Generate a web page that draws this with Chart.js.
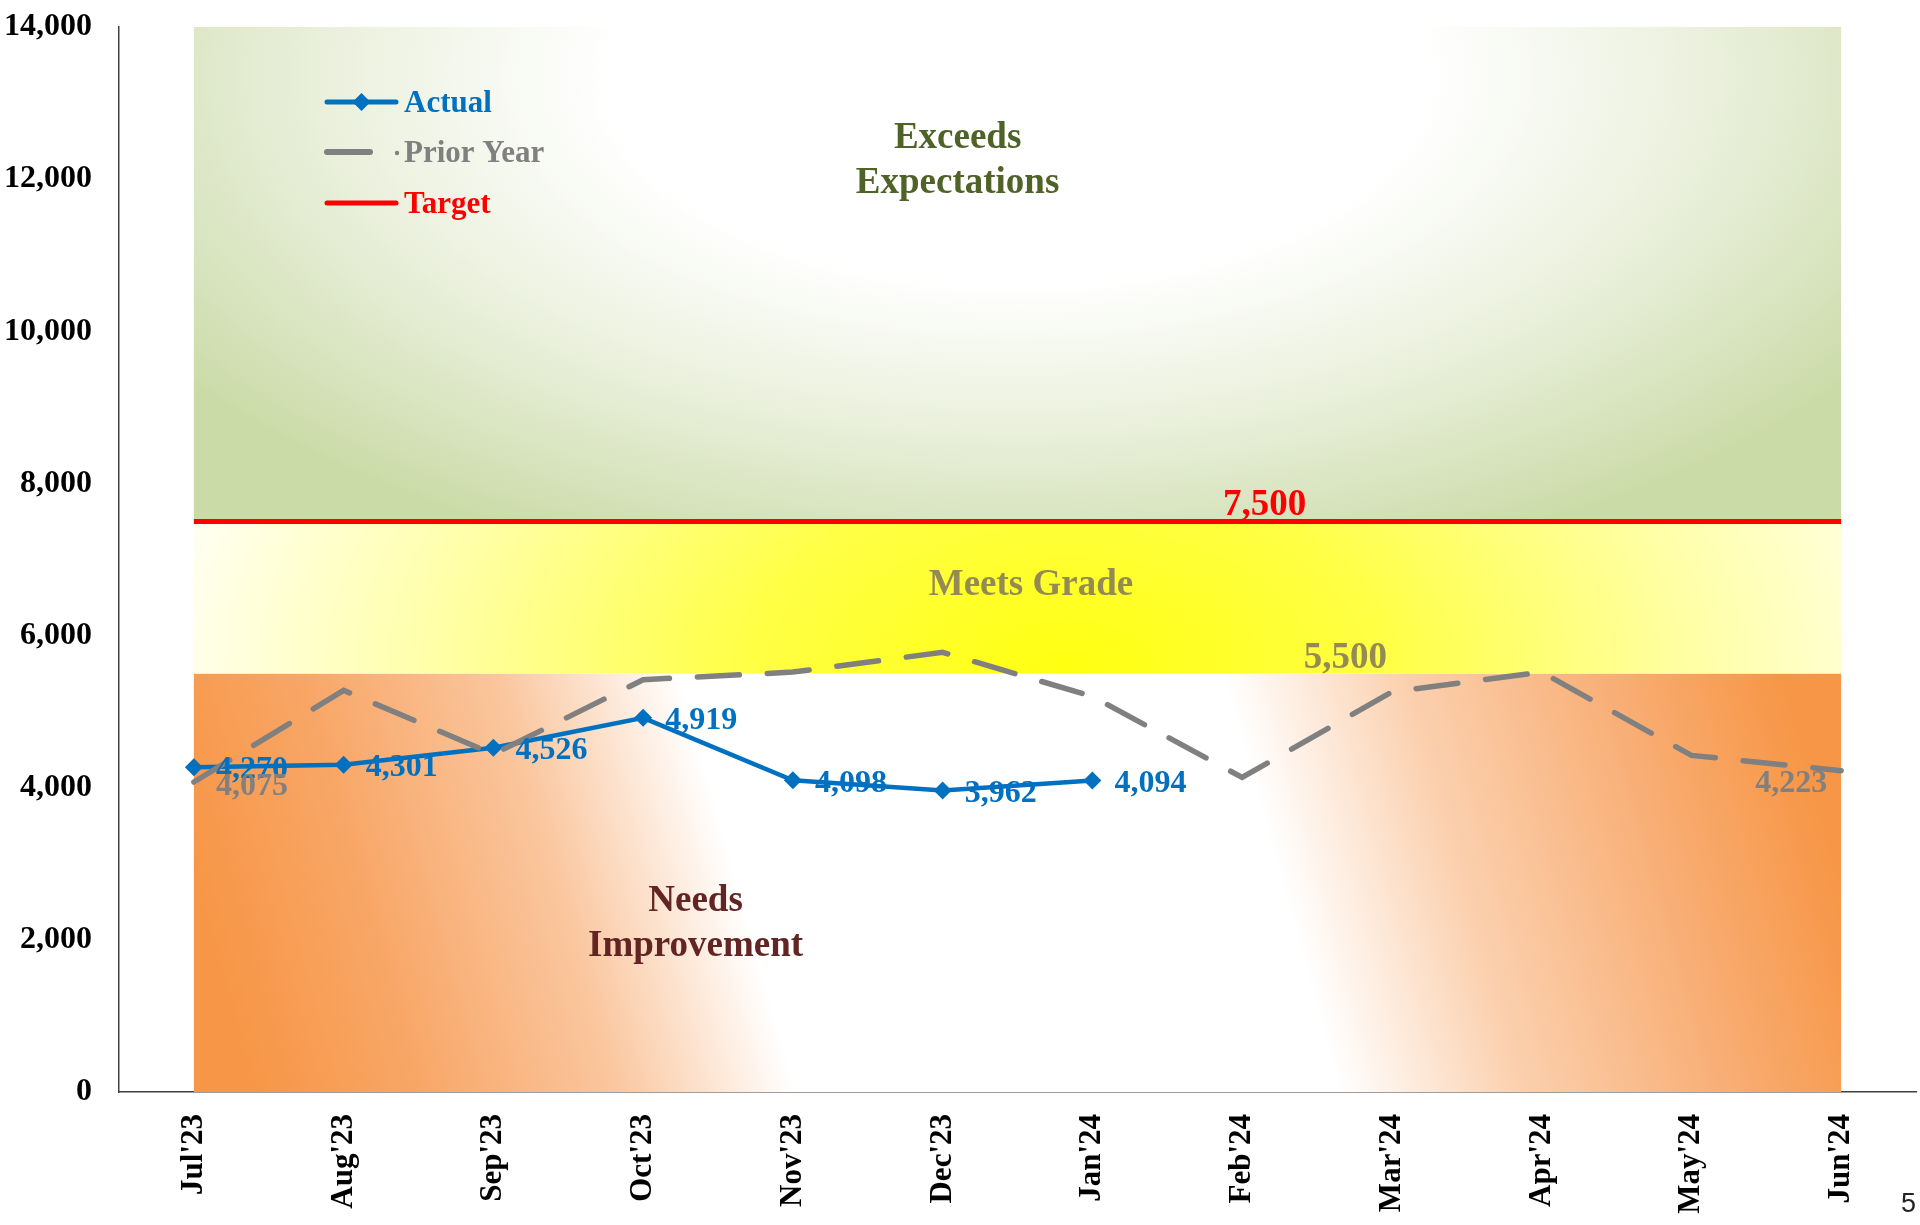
<!DOCTYPE html>
<html><head><meta charset="utf-8">
<script src="https://cdn.jsdelivr.net/npm/chart.js@4.4.1/dist/chart.umd.min.js"></script>
<style>
html,body{margin:0;padding:0;background:#fff;}
#wrap{position:relative;width:1920px;height:1225px;overflow:hidden;}
#page{position:absolute;left:1901px;top:1188px;font:27px "Liberation Sans",Arial,sans-serif;color:#222;}
</style></head><body>
<div id="wrap"><canvas id="c" width="1920" height="1225"></canvas><div id="page">5</div></div>
<script>
// ---- data ----
const categories = ["Jul'23","Aug'23","Sep'23","Oct'23","Nov'23","Dec'23","Jan'24","Feb'24","Mar'24","Apr'24","May'24","Jun'24"];
const actualValues = [4270, 4301, 4526, 4919, 4098, 3962, 4094, null, null, null, null, null];
const priorYearValues = [4075, 5280, 4440, 5420, 5520, 5780, 5200, 4135, 5260, 5520, 4425, 4223];
const targetValues = [7500, 7500, 7500, 7500, 7500, 7500, 7500, 7500, 7500, 7500, 7500, 7500];
const bandLimits = [0, 5500, 7500, 14000];
const yTickValues = [0, 2000, 4000, 6000, 8000, 10000, 12000, 14000];
const priorLabelIndexes = [0, 11];
const boundaryLabels = [{text: "7,500", value: 7500}, {text: "5,500", value: 5500}];
const zoneTexts = [["Exceeds", "Expectations"], ["Meets Grade"], ["Needs", "Improvement"]];

// ---- style / placement (not data) ----
const SERIF = '"Liberation Serif","Times New Roman",serif';
const zoneStyle = [
  {color: '#4F6228', idx: 5.10, value: 12240},
  {color: '#948A54', idx: 5.59, value: 6662},
  {color: '#632523', idx: 3.35, value: 2205}
];
const boundaryStyle = [
  {color: '#FF0000', idx: 7.15},
  {color: '#948A54', idx: 7.69}
];

function catX(xs, idx) {
  const x0 = xs.getPixelForValue(0), x1 = xs.getPixelForValue(1);
  return x0 + idx * (x1 - x0);
}
function fmt(v) { return v.toLocaleString('en-US'); }

const bandsPlugin = {
  id: 'bands',
  beforeDatasetsDraw(chart) {
    const ctx = chart.ctx, xs = chart.scales.x, ys = chart.scales.y;
    const L = xs.getPixelForValue(0), R = xs.getPixelForValue(categories.length - 1), W = R - L;
    const yA = ys.getPixelForValue(bandLimits[0]), yB = ys.getPixelForValue(bandLimits[1]);
    const yC = ys.getPixelForValue(bandLimits[2]), yD = ys.getPixelForValue(bandLimits[3]);
    ctx.save();
    // orange band (tilted linear gradient)
    const k = 0.28, yMid = (yA + yB) / 2, f = 1 + k * k;
    let g = ctx.createLinearGradient(L, yMid, L + W / f, yMid - k * W / f);
    g.addColorStop(0, '#F79646');
    g.addColorStop(0.1, '#F8A666');
    g.addColorStop(0.22, '#FAC69E');
    g.addColorStop(0.33, '#FFFFFF');
    g.addColorStop(0.66, '#FFFFFF');
    g.addColorStop(0.77, '#FBD0AE');
    g.addColorStop(0.9, '#F8AD73');
    g.addColorStop(1, '#F79646');
    ctx.fillStyle = g;
    ctx.fillRect(L, yB, W, yA - yB);
    // yellow band
    ctx.save();
    ctx.beginPath(); ctx.rect(L, yC, W, yB - yC); ctx.clip();
    ctx.translate(L + 0.53 * W, yB); ctx.scale(1, 0.6);
    g = ctx.createRadialGradient(0, 0, 0, 0, 0, 0.55 * W);
    g.addColorStop(0, '#FFFF10');
    g.addColorStop(0.35, '#FFFF45');
    g.addColorStop(0.7, '#FFFFA8');
    g.addColorStop(1, '#FFFFF2');
    ctx.fillStyle = g;
    ctx.fillRect(-W, -1000, 2 * W, 2000);
    ctx.restore();
    // green band
    ctx.save();
    ctx.beginPath(); ctx.rect(L, yD, W, yC - yD); ctx.clip();
    const h = yC - yD;
    const rx = 0.62 * W, ry = 1.05 * h;
    ctx.translate(L + 0.5 * W, yD + 0.1 * h); ctx.scale(1, ry / rx);
    g = ctx.createRadialGradient(0, 0, 0, 0, 0, rx);
    g.addColorStop(0, '#FFFFFF');
    g.addColorStop(0.4, '#FFFFFF');
    g.addColorStop(0.68, '#EAF0DC');
    g.addColorStop(0.88, '#D7E3BD');
    g.addColorStop(1, '#CBDBA8');
    ctx.fillStyle = g;
    ctx.fillRect(-2 * W, -2 * W, 4 * W, 4 * W);
    ctx.restore();
    // zone texts
    ctx.font = 'bold 37px ' + SERIF;
    ctx.textAlign = 'center'; ctx.textBaseline = 'middle';
    zoneTexts.forEach((lines, i) => {
      const st = zoneStyle[i];
      const x = catX(xs, st.idx), yc = ys.getPixelForValue(st.value);
      ctx.fillStyle = st.color;
      const lh = 45;
      lines.forEach((t, j) => {
        ctx.fillText(t, x, yc + (j - (lines.length - 1) / 2) * lh);
      });
    });
    ctx.restore();
  },
  afterDatasetsDraw(chart) {
    const ctx = chart.ctx, xs = chart.scales.x, ys = chart.scales.y;
    ctx.save();
    // boundary value labels
    ctx.font = 'bold 37px ' + SERIF;
    ctx.textAlign = 'center'; ctx.textBaseline = 'alphabetic';
    boundaryLabels.forEach((b, i) => {
      ctx.fillStyle = boundaryStyle[i].color;
      ctx.fillText(b.text, catX(xs, boundaryStyle[i].idx), ys.getPixelForValue(b.value) - 6);
    });
    // actual labels
    ctx.font = 'bold 32px ' + SERIF;
    ctx.textBaseline = 'middle';
    const ma = chart.getDatasetMeta(1);
    ma.data.forEach((pt, i) => {
      if (actualValues[i] == null) return;
      ctx.fillStyle = '#0070C0'; ctx.textAlign = 'left';
      ctx.fillText(fmt(actualValues[i]), pt.x + 22, pt.y + 3);
    });
    // prior year labels
    const mp = chart.getDatasetMeta(0);
    priorLabelIndexes.forEach(i => {
      const pt = mp.data[i];
      ctx.fillStyle = '#808080';
      if (i === 0) { ctx.textAlign = 'left'; ctx.fillText(fmt(priorYearValues[i]), pt.x + 22, pt.y + 5); }
      else { ctx.textAlign = 'right'; ctx.fillText(fmt(priorYearValues[i]), pt.x - 14, pt.y + 13); }
    });
    // legend
    const ca = chart.chartArea;
    const lx0 = ca.left + 208, lx1 = ca.left + 277, tx = ca.left + 285;
    const rows = [ca.top + 75, ca.top + 125, ca.top + 176];
    ctx.lineCap = 'round';
    ctx.strokeStyle = '#0070C0'; ctx.lineWidth = 5; ctx.setLineDash([]);
    ctx.beginPath(); ctx.moveTo(lx0, rows[0]); ctx.lineTo(lx1, rows[0]); ctx.stroke();
    ctx.fillStyle = '#0070C0';
    const dx = (lx0 + lx1) / 2, d = 9;
    ctx.beginPath(); ctx.moveTo(dx, rows[0] - d); ctx.lineTo(dx + d, rows[0]); ctx.lineTo(dx, rows[0] + d); ctx.lineTo(dx - d, rows[0]); ctx.closePath(); ctx.fill();
    ctx.strokeStyle = '#808080'; ctx.lineWidth = 6;
    ctx.beginPath(); ctx.moveTo(lx0, rows[1]); ctx.lineTo(lx0 + 43, rows[1]); ctx.stroke();
    ctx.fillStyle = '#808080';
    ctx.beginPath(); ctx.arc(tx - 7, rows[1] + 1, 2.2, 0, Math.PI * 2); ctx.fill();
    ctx.strokeStyle = '#FF0000'; ctx.lineWidth = 5;
    ctx.beginPath(); ctx.moveTo(lx0, rows[2]); ctx.lineTo(lx1, rows[2]); ctx.stroke();
    ctx.font = 'bold 31px ' + SERIF; ctx.textAlign = 'left'; ctx.textBaseline = 'middle';
    const names = ['Actual', 'Prior Year', 'Target'], cols = ['#0070C0', '#808080', '#FF0000'];
    names.forEach((n, i) => { ctx.fillStyle = cols[i]; ctx.fillText(n, tx, rows[i] + 2); });
    ctx.restore();
  }
};

new Chart(document.getElementById('c'), {
  type: 'line',
  data: {
    labels: categories,
    datasets: [
      {label: 'Prior Year', data: priorYearValues, borderColor: '#808080', borderWidth: 5.5,
       borderDash: [42, 28], borderCapStyle: 'round', pointRadius: 0, tension: 0, order: 0},
      {label: 'Actual', data: actualValues, borderColor: '#0070C0', backgroundColor: '#0070C0', borderWidth: 4.5,
       pointStyle: 'rectRot', pointRadius: 9, pointBorderWidth: 0, pointBackgroundColor: '#0070C0',
       spanGaps: false, tension: 0, order: 1},
      {label: 'Target', data: targetValues, borderColor: '#FF0000', borderWidth: 5, pointRadius: 0, tension: 0, order: 2}
    ]
  },
  options: {
    responsive: false, animation: false,
    layout: {padding: {left: 0, right: 0, top: 27, bottom: 0}},
    plugins: {legend: {display: false}, tooltip: {enabled: false}},
    scales: {
      x: {
        type: 'category', offset: true,
        grid: {display: false, drawTicks: false},
        border: {display: true, color: '#404040', width: 1.5},
        ticks: {minRotation: 90, maxRotation: 90, autoSkip: false, padding: 22, color: '#000',
                font: {family: SERIF, size: 31, weight: 'bold'}},
        afterFit(s) { s.height = 133; s.paddingLeft = 0; s.paddingRight = 0; }
      },
      y: {
        min: bandLimits[0], max: bandLimits[3],
        grid: {display: false, drawTicks: false},
        border: {display: true, color: '#404040', width: 1.5},
        afterBuildTicks(s) { s.ticks = yTickValues.map(v => ({value: v})); },
        ticks: {padding: 27, color: '#000', font: {family: SERIF, size: 32, weight: 'bold'},
                callback: v => fmt(v)},
        afterFit(s) { s.width = 119; s.paddingTop = 0; s.paddingBottom = 0; s.paddingLeft = 0; s.paddingRight = 0; }
      }
    }
  },
  plugins: [bandsPlugin, {
    id: 'stretchRight',
    afterLayout(chart) {
      const xs = chart.scales.x, target = chart.width - 4;
      if (chart.chartArea.right < target) {
        chart.chartArea.right = target; chart.chartArea.width = target - chart.chartArea.left;
        xs.right = target; xs.width = target - xs.left;
        xs.configure();
      }
    }
  }]
});
</script>
</body></html>
